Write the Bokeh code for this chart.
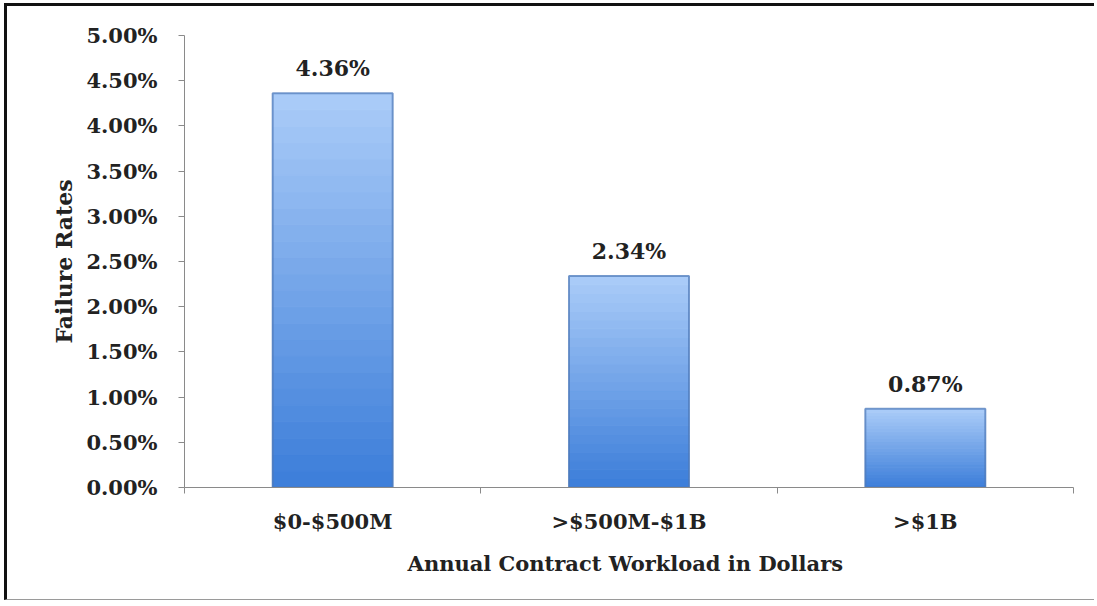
from bokeh.plotting import figure
from bokeh.models import FixedTicker, Range1d, ColumnDataSource
from bokeh.core.properties import value
from bokeh.embed import file_html
from bokeh.resources import INLINE

categories = ["$0-$500M", ">$500M-$1B", ">$1B"]
failure_rates = [4.36, 2.34, 0.87]
bar_labels = ["4.36%", "2.34%", "0.87%"]
y_ticks = [0.0, 0.5, 1.0, 1.5, 2.0, 2.5, 3.0, 3.5, 4.0, 4.5, 5.0]

FONT = "DejaVu Serif"
W, H = 1090, 597
OX, OY = 7, 6  # canvas origin on the page

p = figure(width=W, height=H, output_backend="svg", toolbar_location=None,
           x_range=Range1d(0, len(categories)), y_range=Range1d(0, 5.0))
p.min_border_left = 184 - OX
p.min_border_right = W - (1073 - OX)
p.min_border_top = 35 - OY
p.min_border_bottom = H - (487 - OY)
p.outline_line_color = None
p.border_fill_color = "white"
p.background_fill_color = "white"
p.grid.visible = False
p.styles = {"border-left": "3px solid #111111",
            "border-top": "3px solid #111111",
            "border-bottom": "1px solid #9a9a9a",
            "margin-left": "4px", "margin-top": "3px"}

centers = [i + 0.5 for i in range(len(categories))]

# gradient bars built from stacked segments of each value
n = 24
top_c = (0xA9, 0xCB, 0xF8)
bot_c = (0x3E, 0x7F, 0xDA)
for k in range(n):
    t = k / (n - 1)
    c = tuple(int(bot_c[j] + (top_c[j] - bot_c[j]) * t) for j in range(3))
    col = "#%02x%02x%02x" % c
    p.vbar(x=centers, width=0.405,
           bottom=[v * k / n for v in failure_rates],
           top=[v * (k + 1) / n for v in failure_rates],
           fill_color=col, line_color=col, line_width=1)
# darker side edges
p.vbar(x=centers, width=0.405, bottom=0, top=failure_rates,
       fill_color=None, line_color="#4f79b8", line_width=2, line_alpha=0.7)

src = ColumnDataSource(dict(x=centers, y=failure_rates, t=bar_labels))
p.text(x="x", y="y", text="t", source=src, text_align="center",
       text_baseline="bottom", y_offset=-12,
       text_font=value(FONT), text_font_style="bold",
       text_font_size="22px", text_color="#222222")

# y axis
ya = p.yaxis[0]
ya.ticker = FixedTicker(ticks=y_ticks, minor_ticks=[])
ya.major_label_overrides = {t: "%.2f%%" % t for t in y_ticks}
ya.major_label_text_font = FONT
ya.major_label_text_font_style = "bold"
ya.major_label_text_font_size = "21px"
ya.major_label_text_color = "#222222"
ya.major_label_standoff = 21
ya.major_tick_in = 0
ya.major_tick_out = 6
ya.axis_line_color = "#8a8a8a"
ya.major_tick_line_color = "#8a8a8a"
ya.axis_label = "Failure Rates"
ya.axis_label_text_font = FONT
ya.axis_label_text_font_style = "bold"
ya.axis_label_text_font_size = "22px"
ya.axis_label_text_color = "#222222"
ya.axis_label_standoff = 6

# x axis
xa = p.xaxis[0]
xa.ticker = FixedTicker(ticks=centers,
                        minor_ticks=[float(i) for i in range(len(categories) + 1)])
xa.major_label_overrides = {c: lab for c, lab in zip(centers, categories)}
xa.major_label_text_font = FONT
xa.major_label_text_font_style = "bold"
xa.major_label_text_font_size = "21px"
xa.major_label_text_color = "#222222"
xa.major_label_standoff = 15
xa.major_tick_in = 0
xa.major_tick_out = 0
xa.minor_tick_in = 0
xa.minor_tick_out = 6
xa.axis_line_color = "#8a8a8a"
xa.minor_tick_line_color = "#8a8a8a"
xa.axis_label = "Annual Contract Workload  in Dollars"
xa.axis_label_text_font = FONT
xa.axis_label_text_font_style = "bold"
xa.axis_label_text_font_size = "21px"
xa.axis_label_text_color = "#222222"
xa.axis_label_standoff = 14

open("out.html", "w").write(file_html(p, INLINE))
